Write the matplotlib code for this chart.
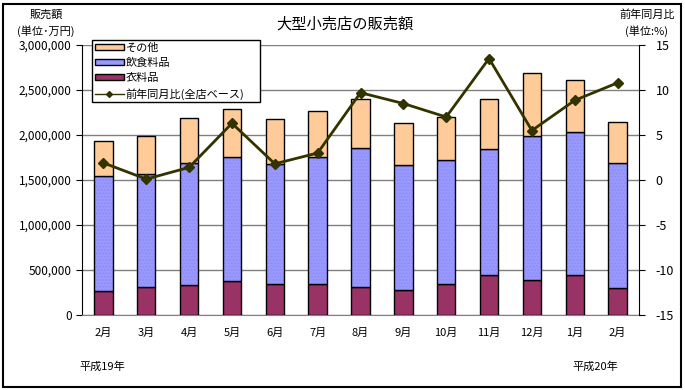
import numpy as np
import matplotlib.pyplot as plt
from matplotlib.patches import Patch, Rectangle
from matplotlib.lines import Line2D

plt.rcParams['font.family'] = ['Noto Sans CJK JP', 'DejaVu Sans']

months = ['2月', '3月', '4月', '5月', '6月', '7月', '8月', '9月', '10月', '11月', '12月', '1月', '2月']
# 万円
clothing = [263000, 308000, 330000, 374000, 344000, 344000, 308000, 278000, 341000, 441000, 389000, 441000, 296000]
food_top = [1541000, 1563000, 1685000, 1752000, 1680000, 1752000, 1852000, 1663000, 1719000, 1844000, 1985000, 2030000, 1685000]
total = [1930000, 1989000, 2185000, 2285000, 2174000, 2263000, 2396000, 2130000, 2196000, 2396000, 2685000, 2607000, 2141000]
yoy = [1.9, 0.1, 1.4, 6.3, 1.8, 3.0, 9.7, 8.5, 7.0, 13.5, 5.5, 8.85, 10.8]

food = np.array(food_top) - np.array(clothing)
other = np.array(total) - np.array(food_top)

c_other = '#ffcc99'
c_food = '#9999ff'
c_cloth = '#993366'
c_line = '#333300'

fig = plt.figure(figsize=(6.85, 3.9), dpi=100)
ax = fig.add_axes([82 / 685, 75 / 390, 557 / 685, 270 / 390])
x = np.arange(len(months))
w = 0.43

ax.bar(x, clothing, w, color=c_cloth, edgecolor='black', lw=1, zorder=3)
ax.bar(x, food, w, bottom=clothing, color=c_food, edgecolor='#8d8df5', hatch='.....', lw=0, zorder=3)
ax.bar(x, food, w, bottom=clothing, fill=False, edgecolor='black', lw=1, zorder=3)
ax.bar(x, other, w, bottom=food_top, color=c_other, edgecolor='black', lw=1, zorder=3)

ax.set_xlim(-0.5, len(months) - 0.5)
ax.set_ylim(0, 3000000)
ax.set_yticks(np.arange(0, 3000001, 500000))
ax.set_yticklabels([f'{v:,}' for v in range(0, 3000001, 500000)], fontsize=8.5)
ax.set_xticks(x)
ax.set_xticklabels(months, fontsize=8)
ax.tick_params(axis='x', length=0, pad=9)
ax.tick_params(axis='y', length=4, direction='out')
ax.grid(axis='y', color='#808080', lw=1, zorder=0)
ax.spines['top'].set_visible(False)
ax.spines['right'].set_visible(False)
ax.spines['bottom'].set_color('#808080')

ax2 = ax.twinx()
ax2.plot(x, yoy, color=c_line, lw=2, marker='D', ms=5, zorder=5)
ax2.set_ylim(-15, 15)
ax2.set_yticks(np.arange(-15, 16, 5))
ax2.set_yticklabels([str(v) for v in range(-15, 16, 5)], fontsize=9)
ax2.tick_params(axis='y', length=4, direction='out', pad=8)
ax2.spines['top'].set_visible(False)
ax2.spines['left'].set_visible(False)
ax2.spines['bottom'].set_visible(False)
ax2.spines['right'].set_color('black')

handles = [Patch(facecolor=c_other, edgecolor='black'),
           Patch(facecolor=c_food, edgecolor='black'),
           Patch(facecolor=c_cloth, edgecolor='black'),
           Line2D([], [], color=c_line, lw=1, marker='D', ms=3)]
labels = ['その他', '飲食料品', '衣料品', '前年同月比(全店ベース)']
leg = fig.legend(handles, labels, loc='upper left',
                 bbox_to_anchor=(92 / 685, 1 - 101 / 390, 168 / 685, 61 / 390), mode='expand',
                 fontsize=8, frameon=True, fancybox=False, framealpha=1, edgecolor='black',
                 handlelength=2.6, handleheight=0.5, labelspacing=0.45, borderpad=0.25,
                 handletextpad=0.2, borderaxespad=0)
leg.get_frame().set_linewidth(1)
leg.set_zorder(10)

fig.text(345 / 685, 1 - 24 / 390, '大型小売店の販売額', ha='center', va='center', fontsize=11)
fig.text(46 / 685, 1 - 15 / 390, '販売額', ha='center', va='center', fontsize=8)
fig.text(46 / 685, 1 - 31 / 390, '(単位･万円)', ha='center', va='center', fontsize=8)
fig.text(647 / 685, 1 - 15 / 390, '前年同月比', ha='center', va='center', fontsize=8)
fig.text(647 / 685, 1 - 31 / 390, '(単位:%)', ha='center', va='center', fontsize=8)
fig.text(102 / 685, 1 - 367 / 390, '平成19年', ha='center', va='center', fontsize=8)
fig.text(595 / 685, 1 - 367 / 390, '平成20年', ha='center', va='center', fontsize=8)

fig.patches.append(Rectangle((3 / 685, 3 / 390), 678 / 685, 383 / 390, transform=fig.transFigure,
                             fill=False, edgecolor='black', lw=1.5))

fig.savefig('out.png', dpi=100)
